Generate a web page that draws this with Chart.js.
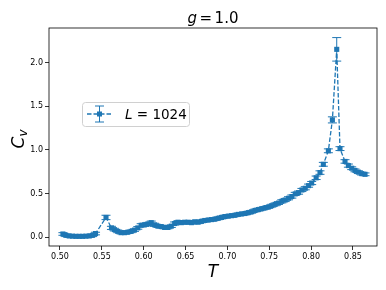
<!DOCTYPE html>
<html lang="en">
<head>
  <meta charset="UTF-8">
  <title>Cv vs T, g = 1.0</title>
  <script src="https://cdn.jsdelivr.net/npm/chart.js"></script>
  <style>
    html, body { margin: 0; padding: 0; background: #ffffff; }
    #wrap { width: 386px; height: 290px; position: relative; }
  </style>
</head>
<body>
  <div id="wrap"><canvas id="cv"></canvas></div>

  <script>
    // temperatures
    const T = [
      0.5035, 0.507, 0.511, 0.515, 0.519, 0.523, 0.527, 0.531, 0.535, 0.539, 0.5425,
      0.555, 0.5615, 0.565, 0.569, 0.573, 0.577, 0.581, 0.585, 0.589, 0.593, 0.597,
      0.601, 0.605, 0.609, 0.613, 0.617, 0.621, 0.625, 0.629, 0.633, 0.637, 0.641,
      0.645, 0.649, 0.653, 0.657, 0.661, 0.665, 0.669, 0.673, 0.677, 0.681, 0.685,
      0.689, 0.693, 0.697, 0.701, 0.705, 0.709, 0.713, 0.717, 0.721, 0.725, 0.729,
      0.733, 0.737, 0.741, 0.745, 0.749, 0.753, 0.757, 0.761, 0.765, 0.769, 0.773,
      0.777, 0.781, 0.785, 0.789, 0.793, 0.797, 0.8007, 0.806, 0.8106, 0.8146,
      0.8206, 0.8254, 0.8306, 0.8345, 0.8405, 0.8445, 0.8485, 0.8524, 0.8564,
      0.8604, 0.8644
    ];
    // specific heat
    const Cv = [
      0.035, 0.02, 0.012, 0.01, 0.008, 0.008, 0.008, 0.01, 0.012, 0.02, 0.04,
      0.225, 0.105, 0.085, 0.065, 0.05, 0.05, 0.055, 0.065, 0.08, 0.105, 0.135,
      0.14, 0.15, 0.165, 0.14, 0.125, 0.12, 0.11, 0.11, 0.125, 0.155, 0.17,
      0.165, 0.17, 0.17, 0.165, 0.175, 0.17, 0.18, 0.19, 0.195, 0.2, 0.205,
      0.215, 0.225, 0.235, 0.24, 0.245, 0.25, 0.26, 0.265, 0.27, 0.28, 0.29,
      0.305, 0.315, 0.325, 0.335, 0.345, 0.36, 0.375, 0.39, 0.41, 0.425, 0.445,
      0.465, 0.495, 0.51, 0.54, 0.56, 0.59, 0.62, 0.68, 0.74, 0.835,
      0.99, 1.345, 2.155, 1.015, 0.868, 0.82, 0.79, 0.765, 0.745,
      0.728, 0.72
    ];
    // error bars
    const CvErr = [
      0.015, 0.015, 0.015, 0.015, 0.015, 0.015, 0.015, 0.015, 0.015, 0.015, 0.015,
      0.025, 0.018, 0.015, 0.015, 0.015, 0.015, 0.015, 0.015, 0.015, 0.015, 0.018,
      0.018, 0.018, 0.018, 0.018, 0.015, 0.015, 0.015, 0.015, 0.015, 0.018, 0.018,
      0.016, 0.016, 0.016, 0.016, 0.016, 0.016, 0.016, 0.016, 0.016, 0.016, 0.016,
      0.016, 0.016, 0.016, 0.016, 0.016, 0.016, 0.016, 0.016, 0.016, 0.016, 0.016,
      0.016, 0.016, 0.016, 0.016, 0.016, 0.016, 0.016, 0.016, 0.018, 0.018, 0.018,
      0.018, 0.018, 0.018, 0.018, 0.018, 0.018, 0.018, 0.02, 0.02, 0.022,
      0.022, 0.035, 0.135, 0.022, 0.02, 0.018, 0.016, 0.016, 0.016,
      0.016, 0.016
    ];
    const xTicks = [0.50, 0.55, 0.60, 0.65, 0.70, 0.75, 0.80, 0.85];
    const yTicks = [0.0, 0.5, 1.0, 1.5, 2.0];

    const blue = '#1f77b4';
    const points = T.map((t, i) => ({ x: t, y: Cv[i] }));

    // draws error bars, the frame, labels and the legend
    const extras = {
      id: 'extras',
      afterDatasetsDraw(chart) {
        const ctx = chart.ctx;
        const xs = chart.scales.x, ys = chart.scales.y;
        ctx.save();
        ctx.strokeStyle = blue;
        ctx.lineWidth = 1;
        T.forEach((t, i) => {
          const px = xs.getPixelForValue(t);
          const top = ys.getPixelForValue(Cv[i] + CvErr[i]);
          const bot = ys.getPixelForValue(Cv[i] - CvErr[i]);
          ctx.beginPath();
          ctx.moveTo(px, top); ctx.lineTo(px, bot);
          ctx.moveTo(px - 4.5, top); ctx.lineTo(px + 4.5, top);
          ctx.moveTo(px - 4.5, bot); ctx.lineTo(px + 4.5, bot);
          ctx.stroke();
        });
        ctx.restore();
      },
      afterDraw(chart) {
        const ctx = chart.ctx;
        const a = chart.chartArea;
        ctx.save();

        // frame
        ctx.strokeStyle = '#000';
        ctx.lineWidth = 0.8;
        ctx.strokeRect(a.left, a.top, a.right - a.left, a.bottom - a.top);

        const cx = (a.left + a.right) / 2;
        ctx.fillStyle = '#000';
        ctx.textBaseline = 'alphabetic';

        // title: g = 1.0
        ctx.font = 'italic 15px "DejaVu Sans"';
        const wg = ctx.measureText('g').width;
        ctx.font = '15px "DejaVu Sans"';
        const weq = ctx.measureText('=').width;
        const wn = ctx.measureText('1.0').width;
        const gap = 2.5;
        let x0 = cx - (wg + weq + wn + 2 * gap) / 2;
        ctx.textAlign = 'left';
        ctx.font = 'italic 15px "DejaVu Sans"';
        ctx.fillText('g', x0, 23);
        ctx.font = '15px "DejaVu Sans"';
        ctx.fillText('=', x0 + wg + gap, 23);
        ctx.fillText('1.0', x0 + wg + weq + 2 * gap, 23);

        // x label
        ctx.textAlign = 'center';
        ctx.font = 'italic 17px "DejaVu Sans"';
        ctx.fillText('T', cx, 277);

        // y label
        ctx.save();
        ctx.translate(24, (a.top + a.bottom) / 2 + 2);
        ctx.rotate(-Math.PI / 2);
        ctx.textAlign = 'left';
        ctx.font = 'italic 17px "DejaVu Sans"';
        const wc = ctx.measureText('C').width;
        ctx.font = 'italic 12px "DejaVu Sans"';
        const wv = ctx.measureText('v').width;
        const s0 = -(wc + wv) / 2;
        ctx.font = 'italic 17px "DejaVu Sans"';
        ctx.fillText('C', s0, 0);
        ctx.font = 'italic 12px "DejaVu Sans"';
        ctx.fillText('v', s0 + wc, 3);
        ctx.restore();

        // legend
        const bx = 82, by = 102, bw = 107, bh = 24;
        ctx.beginPath();
        ctx.roundRect(bx + 0.5, by + 0.5, bw, bh, 3);
        ctx.fillStyle = 'rgba(255,255,255,0.8)';
        ctx.fill();
        ctx.strokeStyle = '#d0d0d0';
        ctx.lineWidth = 1;
        ctx.stroke();

        const hy = 114, hx = 99.5;
        ctx.strokeStyle = blue;
        ctx.lineWidth = 1.3;
        ctx.setLineDash([4.5, 2]);
        ctx.beginPath();
        ctx.moveTo(87, hy); ctx.lineTo(112, hy);
        ctx.stroke();
        ctx.setLineDash([]);
        ctx.lineWidth = 1;
        ctx.beginPath();
        ctx.moveTo(hx, 106); ctx.lineTo(hx, 122);
        ctx.moveTo(hx - 4.5, 106); ctx.lineTo(hx + 4.5, 106);
        ctx.moveTo(hx - 4.5, 122); ctx.lineTo(hx + 4.5, 122);
        ctx.stroke();
        ctx.fillStyle = blue;
        ctx.fillRect(hx - 2.5, hy - 2.5, 5, 5);

        ctx.fillStyle = '#000';
        ctx.textAlign = 'left';
        ctx.font = 'italic 13.5px "DejaVu Sans"';
        ctx.fillText('L', 125, 119);
        const wl = ctx.measureText('L').width;
        ctx.font = '13.5px "DejaVu Sans"';
        ctx.fillText(' = 1024', 125 + wl, 119);

        ctx.restore();
      }
    };

    new Chart(document.getElementById('cv'), {
      type: 'line',
      data: {
        datasets: [{
          data: points,
          borderColor: blue,
          backgroundColor: blue,
          borderWidth: 1.3,
          borderDash: [4.5, 2],
          pointStyle: 'rect',
          pointRadius: 3.6,
          pointBorderWidth: 0,
          pointBackgroundColor: blue,
          tension: 0,
          fill: false
        }]
      },
      options: {
        responsive: true,
        maintainAspectRatio: false,
        animation: false,
        layout: { padding: { left: 0, right: 9, top: 28, bottom: 0 } },
        plugins: {
          legend: { display: false },
          tooltip: { enabled: false },
          title: { display: false }
        },
        scales: {
          x: {
            type: 'linear',
            min: 0.4869,
            max: 0.8787,
            afterBuildTicks: (s) => { s.ticks = xTicks.map(v => ({ value: v })); },
            afterFit: (s) => { s.height = 44; },
            grid: { display: true, drawOnChartArea: false, drawTicks: true, tickLength: 4, tickColor: '#000', tickWidth: 0.8 },
            border: { display: false },
            ticks: {
              font: { family: 'DejaVu Sans', size: 8 },
              color: '#000',
              padding: 2,
              maxRotation: 0,
              callback: (v) => v.toFixed(2)
            }
          },
          y: {
            type: 'linear',
            min: -0.103,
            max: 2.40,
            afterBuildTicks: (s) => { s.ticks = yTicks.map(v => ({ value: v })); },
            afterFit: (s) => { s.width = 49; },
            grid: { display: true, drawOnChartArea: false, drawTicks: true, tickLength: 4, tickColor: '#000', tickWidth: 0.8 },
            border: { display: false },
            ticks: {
              font: { family: 'DejaVu Sans', size: 8 },
              color: '#000',
              padding: 2,
              callback: (v) => v.toFixed(1)
            }
          }
        }
      },
      plugins: [extras]
    });
  </script>
</body>
</html>
